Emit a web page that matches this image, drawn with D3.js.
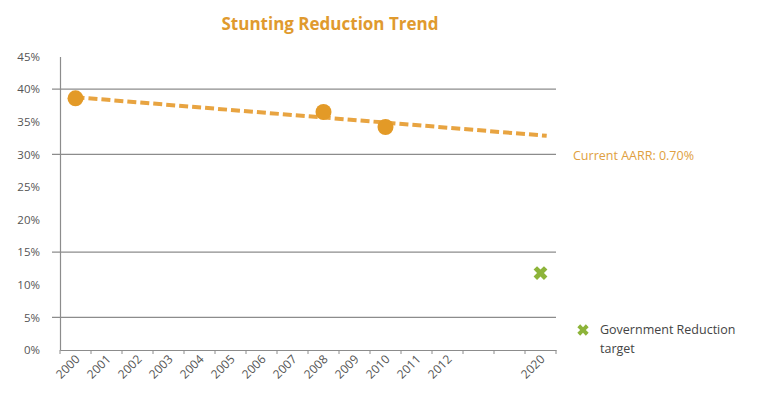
<!DOCTYPE html>
<html><head><meta charset="utf-8">
<script src="https://cdn.jsdelivr.net/npm/d3@7"></script>
<style>body{margin:0;background:#fff;} text{font-family:"Open Sans",sans-serif;}</style>
</head><body><svg id="c" width="774" height="400"></svg>
<script>
const categories = ["2000","2001","2002","2003","2004","2005","2006","2007","2008","2009","2010","2011","2012","","","2020"];
const stuntingYears = ["2000","2008","2010"];
const stuntingValues = [38.6, 36.5, 34.2];
const targetYears = ["2020"];
const targetValues = [11.8];
const yTicks = [0,5,10,15,20,25,30,35,40,45];
const gridValues = [5,15,30,40];

const svg = d3.select("#c");
const x0 = 60, x1 = 556, yTop = 56.6, yBot = 350;
const x = d3.scaleBand().domain(d3.range(categories.length)).range([x0, x1]);
const xc = i => x(i) + x.bandwidth()/2;
const y = d3.scaleLinear().domain([0,45]).range([yBot, yTop]);
const idx = c => categories.indexOf(c);

// gridlines
svg.append("g").selectAll("line").data(gridValues).join("line")
  .attr("x1", x0-8).attr("x2", x1).attr("y1", d=>y(d)).attr("y2", d=>y(d))
  .attr("stroke","#8c8c8c").attr("stroke-width",1.2);

// y axis
const ya = svg.append("g").attr("transform",`translate(${x0},0)`)
  .call(d3.axisLeft(y).tickValues(yTicks).tickFormat(d=>d+"%").tickSize(0).tickPadding(20));
ya.select(".domain").attr("stroke","#8c8c8c").attr("stroke-width",1.2);
ya.selectAll("text").attr("fill","#555").style("font-size","11.5px");

// x axis
const xa = svg.append("g").attr("transform",`translate(0,${yBot})`)
  .call(d3.axisBottom(x).tickFormat(i=>categories[i]).tickSize(0));
xa.select(".domain").attr("stroke","#8c8c8c").attr("stroke-width",1.2);
xa.selectAll(".tick text").attr("fill","#555").style("font-size","12px")
  .attr("text-anchor","end").attr("dy",0).attr("y",0)
  .attr("transform","translate(5,10) rotate(-45)");
// tick marks at band boundaries
xa.append("g").selectAll("line").data(d3.range(categories.length+1)).join("line")
  .attr("x1", i=> x0 + i*x.step()).attr("x2", i=> x0 + i*x.step())
  .attr("y1",0).attr("y2",4).attr("stroke","#8c8c8c");

// trendline (least squares on category index)
const xs = stuntingYears.map(idx), ys = stuntingValues;
const mx = d3.mean(xs), my = d3.mean(ys);
const slope = d3.sum(xs.map((v,i)=>(v-mx)*(ys[i]-my))) / d3.sum(xs.map(v=>(v-mx)*(v-mx)));
const icpt = my - slope*mx;
const tEnd = categories.length - 1;
const trend = [[0, icpt],[tEnd + 0.2, icpt + slope*(tEnd+0.2)]];
const tx = i => xc(0) + i*x.step();
svg.append("line").attr("x1",tx(trend[0][0])).attr("y1",y(trend[0][1]))
  .attr("x2",tx(trend[1][0])).attr("y2",y(trend[1][1]))
  .attr("stroke","#E8A441").attr("stroke-width",4).attr("stroke-dasharray","9,4");

// points
svg.append("g").selectAll("circle").data(stuntingYears).join("circle")
  .attr("cx", d=>xc(idx(d))).attr("cy",(d,i)=>y(stuntingValues[i])).attr("r",8)
  .attr("fill","#E39A27");

// target marker
const cross = d3.symbol().type(d3.symbolCross).size(120);
svg.append("g").selectAll("path").data(targetYears).join("path")
  .attr("d", cross)
  .attr("transform",(d,i)=>`translate(${xc(idx(d))},${y(targetValues[i])}) rotate(45)`)
  .attr("fill","#8DB43A");

// title
svg.append("text").attr("x",330).attr("y",30).attr("text-anchor","middle")
  .attr("fill","#E09A2E").style("font-size","17px").style("font-weight","bold").text("Stunting Reduction Trend");

// annotation
svg.append("text").attr("x",573).attr("y",160).attr("fill","#E0A040").style("font-size","12.5px")
  .text("Current AARR: 0.70%");

// legend
svg.append("path").attr("d", d3.symbol().type(d3.symbolCross).size(80))
  .attr("transform","translate(583,330) rotate(45)").attr("fill","#8DB43A");
svg.append("text").attr("x",600).attr("y",334).attr("fill","#444").style("font-size","12.5px").text("Government Reduction");
svg.append("text").attr("x",600).attr("y",353).attr("fill","#444").style("font-size","12.5px").text("target");
</script></body></html>
